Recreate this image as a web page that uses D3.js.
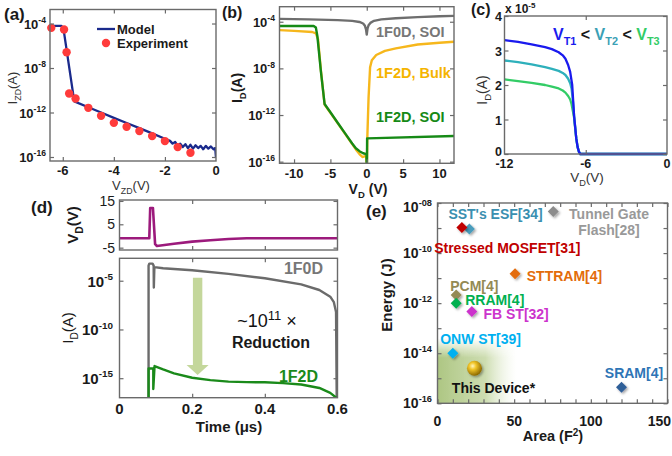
<!DOCTYPE html>
<html><head><meta charset="utf-8">
<script src="https://cdn.jsdelivr.net/npm/d3@7"></script>
<style>body{margin:0;background:#fff}svg{display:block}text{font-family:"Liberation Sans",Arial,Helvetica,sans-serif}</style>
</head><body><svg id="c" width="672" height="456"></svg>
<script>
// ---------- DATA ----------
// (a) Zener diode I-V, log10 of current
const aModelV = [-6.5,-6.05,-5.97,-5.55,-5,-4.5,-4,-3.5,-3,-2.5,-2,-1.8,-1.7,-1.6,-1.5,-1.4,-1.3,-1.2,-1.1,-1,-0.9,-0.8,-0.7,-0.6,-0.5,-0.4,-0.3,-0.2,-0.1,-0.03,0];
const aModelLogI = [-4.22,-4.22,-4.5,-11.0,-11.53,-12.0,-12.48,-12.94,-13.41,-13.88,-14.36,-14.55,-14.8,-14.65,-15.0,-14.8,-15.1,-14.85,-15.2,-14.9,-15.25,-14.95,-15.2,-15.0,-15.3,-15.0,-15.25,-15.05,-15.3,-15.2,-16.1];
const aExpV = [-6.45,-5.95,-5.85,-5.75,-5.5,-5,-4.5,-4,-3.5,-3,-2.5,-2,-1.5,-1];
const aExpLogI = [-4.39,-4.54,-6.58,-10.29,-10.74,-11.58,-12.3,-12.93,-13.28,-13.67,-14.12,-14.57,-15.11,-15.62];
const aXTicks = [-6,-4,-2,0];
const aYTicks = [-4,-8,-12,-16];

// (b) I_D vs V_D, log10 of current
const b1F0DV = [-12,-8,-4,-2,-1,-0.5,-0.25,-0.1,0,0.1,0.25,0.5,1,2,4,7,10,12];
const b1F0DLogI = [-3.75,-3.8,-3.86,-3.93,-4.02,-4.15,-4.35,-4.65,-5.1,-4.6,-4.3,-4.1,-3.92,-3.8,-3.7,-3.6,-3.53,-3.5];
const bBulkV = [-12,-10,-7.5,-7.0,-6.7,-6.3,-5.8,-5,-4,-3,-2,-1.5,-1,-0.6,-0.3,-0.1,0,0.02,0.08,0.25,0.46,0.7,1.3,2.5,4,7,10,12];
const bBulkLogI = [-4.72,-4.78,-4.88,-5.0,-5.5,-8.2,-11.1,-11.8,-12.7,-13.6,-14.5,-14.95,-15.35,-15.6,-15.55,-15.45,-16.3,-16.3,-13.9,-10.5,-7.9,-7.3,-6.85,-6.5,-6.28,-5.95,-5.8,-5.71];
const bSoiV = [-12,-7.3,-7.0,-6.8,-6.3,-5.8,-5,-4,-3,-2,-1.5,-1,-0.5,-0.05,0,0.03,0.05,12];
const bSoiLogI = [-4.37,-4.37,-4.5,-5.2,-8.3,-11.05,-11.76,-12.66,-13.55,-14.44,-14.85,-15.1,-15.28,-15.35,-16.3,-16.3,-14.0,-13.8];
const bXTicks = [-10,-5,0,5,10];
const bYTicks = [-4,-8,-12,-16];

// (c) I_D (x1e-5 A) vs V_D for three thresholds
const cVT1V = [-12,-11,-10,-9,-8.5,-8,-7.7,-7.5,-7.3,-7.15,-7.0,-6.86,-6.7,-6.6,-6.5,-6.4,0];
const cVT1I = [3.30,3.25,3.18,3.10,3.04,2.95,2.86,2.76,2.58,2.38,2.0,1.1,0.45,0.2,0.06,0,0];
const cVT2V = [-12,-11,-10,-9,-8.5,-8,-7.7,-7.5,-7.3,-7.15,-7.05,-6.95,-6.86,-6.7,-6.6,-6.5,-6.4,0];
const cVT2I = [2.71,2.66,2.60,2.52,2.47,2.41,2.35,2.29,2.18,2.05,1.9,1.55,1.1,0.45,0.2,0.06,0,0];
const cVT3V = [-12,-11,-10,-9,-8.5,-8,-7.7,-7.5,-7.3,-7.15,-7.05,-6.97,-6.86,-6.7,-6.6,-6.5,-6.4,0];
const cVT3I = [2.16,2.11,2.06,2.0,1.95,1.9,1.84,1.78,1.68,1.58,1.45,1.28,1.05,0.45,0.2,0.06,0,0];
const cXTicks = [-12,-6,0];
const cYTicks = [0,1,2,3,4];

// (d) transient: V_D pulse and I_D (log10)
const dVdT = [0,0.082,0.0845,0.092,0.098,0.103,0.15,0.2,0.25,0.3,0.35,0.6];
const dVd = [-1,-1,12,12,-3.5,-4.3,-3.3,-2.4,-1.8,-1.3,-1.0,-1.0];
const d1F0DT = [0.08,0.08,0.082,0.091,0.094,0.0945,0.096,0.12,0.2,0.3,0.4,0.5,0.55,0.58,0.59,0.596,0.598];
const d1F0DLogI = [-18,-3.45,-3.25,-3.25,-3.45,-5.7,-3.6,-3.72,-3.93,-4.3,-4.75,-5.37,-5.95,-6.64,-7.2,-8.2,-18];
const d1F2DT = [0.08,0.08,0.093,0.093,0.0965,0.1,0.12,0.15,0.2,0.25,0.3,0.35,0.4,0.45,0.5,0.55,0.58,0.6];
const d1F2DLogI = [-18,-14,-14,-16.1,-13.75,-13.8,-14.1,-14.5,-14.95,-15.2,-15.35,-15.4,-15.42,-15.5,-15.65,-16.0,-16.5,-17.1];
const dXTicks = [0,0.2,0.4,0.6];
const dVTicks = [15,5,-5];
const dITicks = [-5,-10,-15];

// (e) energy vs area benchmark
const eNames = ["SST's ESF[34]","Stressed MOSFET[31]","Tunnel Gate Flash[28]","STTRAM[4]","PCM[4]","RRAM[4]","FB ST[32]","ONW ST[39]","SRAM[4]"];
const eArea = [20.8,15.9,75.5,50.6,12.2,12.2,22.4,10,120];
const eEnergy = [9.1e-10,1.05e-9,4.6e-9,1.5e-11,2.1e-12,1.0e-12,4.6e-13,1.0e-14,4.4e-16];
const eThisArea = 24.1, eThisEnergy = 2.5e-15;
const eXTicks = [0,50,100,150];
const eYTicks = [-8,-10,-12,-14,-16];
const eYTickText = ["-08","-10","-12","-14","-16"];

// ---------- HELPERS ----------
const svg = d3.select("#c");
svg.append("rect").attr("width",672).attr("height",456).attr("fill","#fff");
const defs = svg.append("defs");
const zip = (a,b)=>a.map((v,i)=>[v,b[i]]);
const FRAME = "#6a6a6a";

function frame(x0,x1,y0,y1){
  svg.append("rect").attr("x",x0).attr("y",y0).attr("width",x1-x0).attr("height",y1-y0)
    .attr("fill","none").attr("stroke",FRAME).attr("stroke-width",1.4);
}
function ticks(scale, vals, orient, pos, len){
  const ax = orient==="bottom"?d3.axisBottom(scale):orient==="top"?d3.axisTop(scale):orient==="left"?d3.axisLeft(scale):d3.axisRight(scale);
  ax.tickValues(vals).tickSizeInner(-len).tickSizeOuter(0).tickFormat("");
  const g = svg.append("g").attr("transform",(orient==="bottom"||orient==="top")?`translate(0,${pos})`:`translate(${pos},0)`).call(ax);
  g.select(".domain").remove();
  g.selectAll("line").attr("stroke",FRAME).attr("stroke-width",1.2);
}
function clip(id,x0,x1,y0,y1){
  defs.append("clipPath").attr("id",id).append("rect").attr("x",x0).attr("y",y0).attr("width",x1-x0).attr("height",y1-y0);
}
function pow10(x,y,exp,size,anchor,fill){
  const t = svg.append("text").attr("x",x).attr("y",y).attr("text-anchor",anchor||"end")
    .attr("font-size",size).attr("font-weight","bold").attr("fill",fill||"#1a1a1a");
  t.append("tspan").text("10");
  t.append("tspan").attr("dy",-size*0.45).attr("font-size",size*0.66).text(exp);
  return t;
}
function txt(x,y,s,size,opts){
  opts=opts||{};
  return svg.append("text").attr("x",x).attr("y",y).attr("font-size",size)
    .attr("font-weight",opts.weight||"bold").attr("fill",opts.fill||"#1a1a1a")
    .attr("text-anchor",opts.anchor||"middle").text(s);
}
function rich(x,y,parts,size,opts){
  opts=opts||{};
  const t = svg.append("text").attr("x",x).attr("y",y).attr("font-size",size)
    .attr("font-weight",opts.weight||"bold").attr("fill",opts.fill||"#1a1a1a")
    .attr("text-anchor",opts.anchor||"middle");
  if(opts.rotate) t.attr("transform",`rotate(-90,${x},${y})`);
  let shift=0;
  parts.forEach(p=>{
    const target = p.sub? size*0.32 : p.sup? -size*0.42 : 0;
    const ts = t.append("tspan").attr("dy",target-shift).text(p.t);
    if(p.sub||p.sup) ts.attr("font-size",size*0.68);
    if(p.fill) ts.attr("fill",p.fill);
    shift=target;
  });
  return t;
}
function path(data, x, y, color, w, clipId){
  svg.append("path").datum(data).attr("fill","none").attr("stroke",color).attr("stroke-width",w)
    .attr("stroke-linejoin","round").attr("clip-path",clipId?`url(#${clipId})`:null)
    .attr("d",d3.line().x(d=>x(d[0])).y(d=>y(d[1])));
}

// panel labels
txt(4,20,"(a)",17,{anchor:"start"});
txt(222,18,"(b)",16,{anchor:"start"});
txt(471,15,"(c)",16,{anchor:"start"});
txt(31,213,"(d)",17,{anchor:"start"});
txt(366,217,"(e)",17,{anchor:"start"});

// ---------- (a) ----------
{
  const X0=50,X1=216,Y0=9.5,Y1=161;
  const x = d3.scaleLinear().domain([-6.5,0]).range([X0,X1]);
  const y = d3.scaleLog().domain([Math.pow(10,-16.36),Math.pow(10,-2.74)]).range([Y1,Y0]);
  const yl = v=>y(Math.pow(10,v));
  clip("clipA",X0,X1,Y0,Y1);
  path(zip(aModelV,aModelLogI),x,yl,"#1a2a8c",2.3,"clipA");
  svg.append("g").selectAll("circle").data(zip(aExpV,aExpLogI)).join("circle")
    .attr("cx",d=>x(d[0])).attr("cy",d=>yl(d[1])).attr("r",4.2).attr("fill","#ff3b3b");
  frame(X0,X1,Y0,Y1);
  const yt = aYTicks.map(v=>Math.pow(10,v));
  ticks(x,[-6,-4,-2],"bottom",Y1,4); ticks(x,[-6,-4,-2],"top",Y0,4);
  ticks(y,yt,"left",X0,4); ticks(y,yt,"right",X1,4);
  aXTicks.forEach(v=>txt(x(v),175,String(v),13));
  aYTicks.forEach(v=>pow10(46,yl(v)+5,String(v),13));
  rich(131,190,[{t:"V"},{t:"ZD",sub:true},{t:"(V)"}],13,{weight:"normal",fill:"#333"});
  rich(17,88,[{t:"I"},{t:"ZD",sub:true},{t:"(A)"}],13,{weight:"normal",fill:"#333",rotate:true});
  // legend
  svg.append("line").attr("x1",97).attr("x2",115).attr("y1",29).attr("y2",29).attr("stroke","#1a2a8c").attr("stroke-width",2.3);
  txt(117,34,"Model",13,{anchor:"start"});
  svg.append("circle").attr("cx",106).attr("cy",43).attr("r",4.2).attr("fill","#ff3b3b");
  txt(117,48,"Experiment",13,{anchor:"start"});
}

// ---------- (b) ----------
{
  const X0=279.5,X1=454,Y0=6.7,Y1=163.3;
  const x = d3.scaleLinear().domain([-12,12]).range([X0,X1]);
  const y = d3.scaleLog().domain([Math.pow(10,-16.14),Math.pow(10,-2.71)]).range([Y1,Y0]);
  const yl = v=>y(Math.pow(10,v));
  clip("clipB",X0,X1,Y0,Y1);
  path(zip(b1F0DV,b1F0DLogI),x,yl,"#6e6e6e",2.4,"clipB");
  path(zip(bBulkV,bBulkLogI),x,yl,"#f6b71c",2.4,"clipB");
  path(zip(bSoiV,bSoiLogI),x,yl,"#168a16",2.4,"clipB");
  frame(X0,X1,Y0,Y1);
  const yt = bYTicks.map(v=>Math.pow(10,v));
  ticks(x,bXTicks,"bottom",Y1,4); ticks(x,bXTicks,"top",Y0,4);
  ticks(y,yt,"left",X0,4); ticks(y,yt,"right",X1,4);
  bXTicks.forEach(v=>txt(x(v),178,String(v),13));
  bYTicks.forEach(v=>pow10(275,yl(v)+5,String(v),13));
  rich(368,194,[{t:"V"},{t:"D",sub:true},{t:" (V)"}],14);
  rich(242,88,[{t:"I"},{t:"D",sub:true},{t:"(A)"}],14,{rotate:true});
  txt(376,37,"1F0D, SOI",14.5,{anchor:"start",fill:"#777"});
  txt(376,78,"1F2D, Bulk",14.5,{anchor:"start",fill:"#f5b400"});
  txt(376,122,"1F2D, SOI",14.5,{anchor:"start",fill:"#168a16"});
}

// ---------- (c) ----------
{
  const X0=504.5,X1=667,Y0=16,Y1=154;
  const x = d3.scaleLinear().domain([-12,0]).range([X0,X1]);
  const y = d3.scaleLinear().domain([0,4]).range([Y1,Y0]);
  clip("clipC",X0,X1,Y0-2,Y1+2);
  path(zip(cVT3V,cVT3I),x,y,"#33cc66",2.3,"clipC");
  path(zip(cVT2V,cVT2I),x,y,"#2eb0bb",2.3,"clipC");
  path(zip(cVT1V,cVT1I),x,y,"#1a1aee",2.3,"clipC");
  frame(X0,X1,Y0,Y1);
  ticks(x,[-6],"bottom",Y1,4); ticks(x,[-6],"top",Y0,4);
  ticks(y,cYTicks,"left",X0,4); ticks(y,cYTicks,"right",X1,4);
  cXTicks.forEach(v=>txt(x(v),168,String(v),12.5));
  cYTicks.forEach(v=>txt(502,y(v)+(v===0?1.5:5),String(v),12.5,{anchor:"end"}));
  const t = svg.append("text").attr("x",505).attr("y",13).attr("font-size",12).attr("font-weight","bold").attr("fill","#1a1a1a");
  t.append("tspan").text("x 10");
  t.append("tspan").attr("dy",-5).attr("font-size",8).text("-5");
  rich(587,182,[{t:"V"},{t:"D",sub:true},{t:"(V)"}],13.5,{weight:"normal",fill:"#333"});
  rich(487,90,[{t:"I"},{t:"D",sub:true},{t:"(A)"}],14,{weight:"normal",fill:"#333",rotate:true});
  rich(553,40,[{t:"V",fill:"#1a1aee"},{t:"T1",sub:true,fill:"#1a1aee"},{t:"  < "},{t:"V",fill:"#3aa0b5"},{t:"T2",sub:true,fill:"#3aa0b5"},{t:" < "},{t:"V",fill:"#33cc66"},{t:"T3",sub:true,fill:"#33cc66"}],16,{anchor:"start"});
}

// ---------- (d) ----------
{
  const X0=119.5,X1=337.5;
  const x = d3.scaleLinear().domain([0,0.6]).range([X0,X1]);
  // top: V_D
  const T0=200,T1=250;
  const yv = d3.scaleLinear().domain([-6,15.4]).range([T1,T0]);
  clip("clipD1",X0,X1,T0,T1);
  path(zip(dVdT,dVd),x,yv,"#9c1a7c",2.6,"clipD1");
  frame(X0,X1,T0,T1);
  ticks(x,[0.2,0.4],"bottom",T1,4); ticks(x,[0.2,0.4],"top",T0,4);
  ticks(yv,dVTicks,"left",X0,4); ticks(yv,dVTicks,"right",X1,4);
  dVTicks.forEach(v=>txt(115,yv(v)+5,String(v),14,{anchor:"end",weight:"normal"}));
  rich(78,225,[{t:"V"},{t:"D",sub:true},{t:"(V)"}],15,{rotate:true});
  // bottom: I_D
  const B0=258.3,B1=397.7;
  const yi = d3.scaleLog().domain([1e-17,Math.pow(10,-2.7)]).range([B1,B0]);
  const yl = v=>yi(Math.pow(10,v));
  clip("clipD2",X0,X1,B0,B1);
  // arrow
  const ac = x(0.215), sTop=yl(-4.7), hBase=yl(-13.64), tip=yl(-14.66);
  svg.append("path").attr("fill","#c4d79b")
    .attr("d",`M${ac-4.7},${sTop}L${ac+4.7},${sTop}L${ac+4.7},${hBase}L${ac+11},${hBase}L${ac},${tip}L${ac-11},${hBase}L${ac-4.7},${hBase}Z`);
  path(zip(d1F0DT,d1F0DLogI),x,yl,"#6b6b6b",2.4,"clipD2");
  path(zip(d1F2DT,d1F2DLogI),x,yl,"#1a8a1a",2.4,"clipD2");
  frame(X0,X1,B0,B1);
  ticks(x,[0.2,0.4],"bottom",B1,4); ticks(x,[0.2,0.4],"top",B0,4);
  const it = dITicks.map(v=>Math.pow(10,v));
  ticks(yi,it,"left",X0,4); ticks(yi,it,"right",X1,4);
  dITicks.forEach(v=>pow10(113,yl(v)+6,String(v),15));
  dXTicks.forEach(v=>txt(x(v),414,String(v),15));
  txt(229,432,"Time (\u03bcs)",15);
  rich(73,328,[{t:"I"},{t:"D",sub:true},{t:"(A)"}],15,{weight:"normal",rotate:true});
  txt(323,274,"1F0D",16,{anchor:"end",fill:"#777"});
  txt(318,382,"1F2D",16,{anchor:"end",fill:"#1a8a1a"});
  const m = svg.append("text").attr("x",267).attr("y",327).attr("text-anchor","middle")
    .attr("font-family","'DejaVu Serif','Liberation Serif',serif").attr("font-size",18).attr("fill","#111");
  m.append("tspan").text("~10");
  m.append("tspan").attr("dy",-7).attr("font-size",13).text("11");
  m.append("tspan").attr("dy",7).text(" \u00d7");
  txt(271,348,"Reduction",16);
}

// ---------- (e) ----------
{
  const X0=437.5,X1=667.5,Y0=203,Y1=403.3;
  const x = d3.scaleLinear().domain([0,150]).range([X0,X1]);
  const y = d3.scaleLog().domain([1e-16,1e-8]).range([Y1,Y0]);
  // shaded region
  const hg = defs.append("linearGradient").attr("id","gH").attr("x1",0).attr("x2",1).attr("y1",0).attr("y2",0);
  hg.append("stop").attr("offset",0).attr("stop-color","#a9c37c").attr("stop-opacity",0.95);
  hg.append("stop").attr("offset",0.6).attr("stop-color","#bcd196").attr("stop-opacity",0.75);
  hg.append("stop").attr("offset",1).attr("stop-color","#e6efd8").attr("stop-opacity",0);
  const vg = defs.append("linearGradient").attr("id","gV").attr("x1",0).attr("x2",0).attr("y1",0).attr("y2",1);
  vg.append("stop").attr("offset",0).attr("stop-color","#fff").attr("stop-opacity",0);
  vg.append("stop").attr("offset",0.3).attr("stop-color","#fff").attr("stop-opacity",1);
  vg.append("stop").attr("offset",1).attr("stop-color","#fff").attr("stop-opacity",1);
  const rx0=x(0), rx1=x(52), ry0=y(Math.pow(10,-13.4)), ry1=Y1;
  defs.append("mask").attr("id","mV").append("rect").attr("x",rx0).attr("y",ry0).attr("width",rx1-rx0).attr("height",ry1-ry0).attr("fill","url(#gV)");
  svg.append("rect").attr("x",rx0).attr("y",ry0).attr("width",rx1-rx0).attr("height",ry1-ry0).attr("fill","url(#gH)").attr("mask","url(#mV)");

  frame(X0,X1,Y0,Y1);
  const minorX = d3.range(0,151,10);
  ticks(x,minorX,"bottom",Y1,4); ticks(x,minorX,"top",Y0,4);
  const yt = d3.range(-16,-7,1).map(v=>Math.pow(10,v));
  ticks(y,yt,"left",X0,4); ticks(y,yt,"right",X1,4);
  eYTicks.forEach((v,i)=>pow10(432,y(Math.pow(10,v))+(v===-8?9:5),eYTickText[i],14));
  eXTicks.forEach(v=>{
    if(v===150) txt(671,426,String(v),14,{anchor:"end"});
    else txt(x(v),426,String(v),14);
  });
  svg.append("text").attr("x",553).attr("y",441).attr("text-anchor","middle").attr("font-size",14.5).attr("font-weight","bold").attr("fill","#1a1a1a")
    .call(t=>{t.append("tspan").text("Area (F");t.append("tspan").attr("dy",-5).attr("font-size",10).text("2");t.append("tspan").attr("dy",5).text(")");});
  rich(392,295,[{t:"Energy (J)"}],15,{rotate:true});

  const colors = ["#4a9cbc","#c00000","#8c8c8c","#e36c0a","#948a54","#00b050","#cc33cc","#00b0f0","#2f5f98"];
  const labColors = ["#3a8fb0","#c00000","#999999","#e36c0a","#948a54","#00b050","#cc33cc","#00b0f0","#2e75b6"];
  const labOff = [[-21,-10],[-27.7,25],[null,null],[11.7,7],[-6,-4.3],[9,1.7],[11.6,7.6],[-12.7,-9.3],[-16.7,-9]];
  const f = defs.append("filter").attr("id","sh").attr("x","-50%").attr("y","-50%").attr("width","200%").attr("height","200%");
  f.append("feDropShadow").attr("dx",1.5).attr("dy",1.5).attr("stdDeviation",1).attr("flood-color","#000").attr("flood-opacity",0.35);
  const drawOrder = [2,0,1,3,4,5,6,7,8];
  drawOrder.forEach(i=>{
    const px=x(eArea[i]), py=y(eEnergy[i]), r=5.5;
    svg.append("path").attr("d",`M${px},${py-r}L${px+r},${py}L${px},${py+r}L${px-r},${py}Z`)
      .attr("fill",colors[i]).attr("filter","url(#sh)");
  });
  eNames.forEach((n,i)=>{
    const px=x(eArea[i]), py=y(eEnergy[i]);
    if(i===2){
      txt(609,219,"Tunnel Gate",14,{fill:labColors[i]});
      txt(609,235,"Flash[28]",14,{fill:labColors[i]});
    } else {
      txt(px+labOff[i][0],py+labOff[i][1],n,14,{anchor:"start",fill:labColors[i]});
    }
  });
  // this device sphere
  const rg = defs.append("radialGradient").attr("id","gold").attr("cx","38%").attr("cy","35%").attr("r","65%");
  rg.append("stop").attr("offset",0).attr("stop-color","#fff6c0");
  rg.append("stop").attr("offset",0.35).attr("stop-color","#f2c62a");
  rg.append("stop").attr("offset",1).attr("stop-color","#8d6a00");
  const sx=x(eThisArea), sy=y(eThisEnergy);
  svg.append("circle").attr("cx",sx).attr("cy",sy).attr("r",7.5).attr("fill","url(#gold)").attr("filter","url(#sh)");
  txt(sx-22.6,sy+24.4,"This Device*",14,{anchor:"start",fill:"#111"});
}
</script></body></html>
